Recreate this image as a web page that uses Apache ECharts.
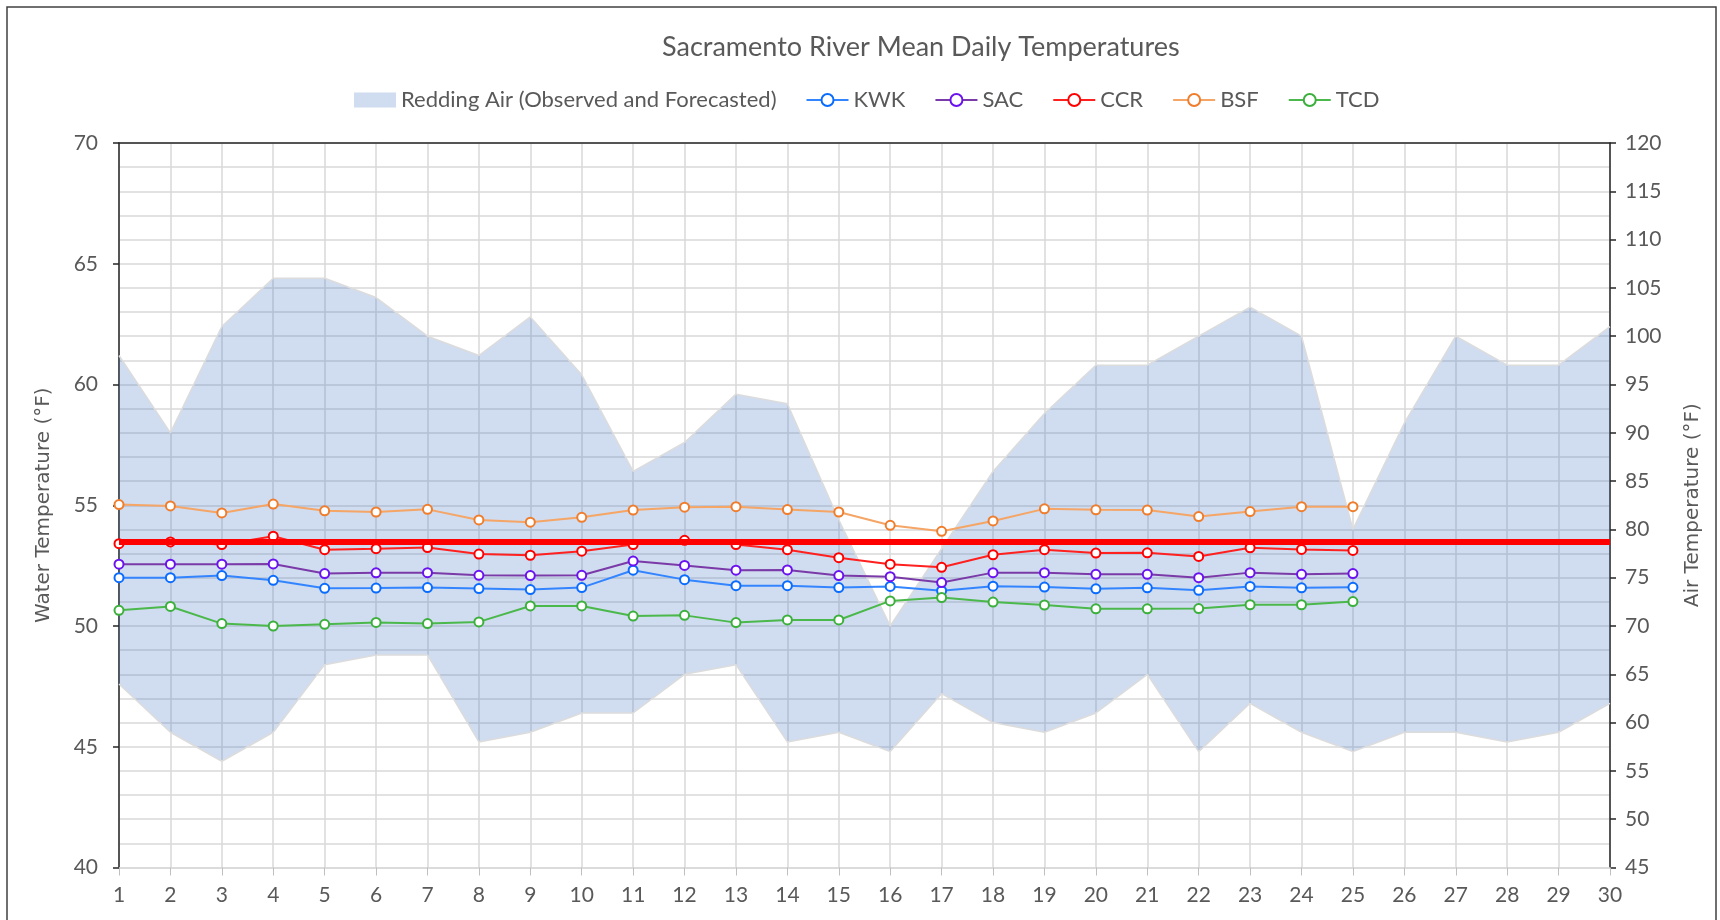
<!DOCTYPE html>
<html>
<head>
<meta charset="utf-8">
<title>Sacramento River Mean Daily Temperatures</title>
<script src="https://cdn.jsdelivr.net/npm/echarts@6/dist/echarts.min.js"></script>
<style>
  html, body { margin: 0; padding: 0; background: #fff; }
  #chart { width: 1720px; height: 920px; }
</style>
</head>
<body>
<div id="chart"></div>
<script>
// day of month
const days = ['1', '2', '3', '4', '5', '6', '7', '8', '9', '10',
  '11', '12', '13', '14', '15', '16', '17', '18', '19', '20',
  '21', '22', '23', '24', '25', '26', '27', '28', '29', '30']

// Redding air temperature band (right axis, °F)
const airHigh = [98, 90, 101, 106, 106, 104, 100, 98, 102, 96, 86, 89, 94, 93, 81,
  70, 78, 86, 92, 97, 97, 100, 103, 100, 80, 91, 100, 97, 97, 101]
const airLow = [64, 59, 56, 59, 66, 67, 67, 58, 59, 61, 61, 65, 66, 58, 59,
  57, 63, 60, 59, 61, 65, 57, 62, 59, 57, 59, 59, 58, 59, 62]

// water temperatures (left axis, °F)
const kwk = [52.0, 52.0, 52.09, 51.89, 51.56, 51.57, 51.59, 51.55, 51.51, 51.59, 52.31, 51.92, 51.67,
  51.67, 51.59, 51.64, 51.46, 51.65, 51.61, 51.54, 51.58, 51.48, 51.64, 51.58, 51.6]
const sac = [52.56, 52.56, 52.56, 52.57, 52.17, 52.2, 52.21, 52.1, 52.09, 52.1, 52.69, 52.51, 52.31,
  52.32, 52.09, 52.04, 51.8, 52.21, 52.21, 52.14, 52.14, 52.0, 52.21, 52.14, 52.17]
const ccr = [53.41, 53.48, 53.37, 53.72, 53.16, 53.2, 53.25, 52.98, 52.93, 53.1, 53.37, 53.55, 53.37,
  53.16, 52.83, 52.56, 52.43, 52.95, 53.16, 53.02, 53.03, 52.88, 53.24, 53.17, 53.13]
const bsf = [55.03, 54.97, 54.68, 55.05, 54.77, 54.72, 54.83, 54.39, 54.3, 54.5, 54.8, 54.92, 54.94,
  54.82, 54.72, 54.17, 53.92, 54.35, 54.85, 54.81, 54.8, 54.53, 54.74, 54.94, 54.94]
const tcd = [50.65, 50.81, 50.1, 50.0, 50.07, 50.15, 50.1, 50.17, 50.83, 50.83, 50.41, 50.44, 50.14,
  50.25, 50.25, 51.04, 51.18, 50.99, 50.87, 50.71, 50.71, 50.72, 50.88, 50.88, 51.01]

// temperature target line (left axis)
const targetTemp = [53.5]

// axis ticks
const waterTicks = { min: 40, max: 70, step: 5 }
const airTicks = { min: 45, max: 120, step: 5 }

const AIR_NAME = 'Redding Air (Observed and Forecasted)'
const TEXT = '#595959'
const GRID = '#d9d9d9'
const FONT = 'Lato'

// stacked band: the lower edge is the base, the visible part is high - low
const airSpan = airHigh.map((v, i) => v - airLow[i])

function waterSeries (name, data, lineColor, markColor) {
  return {
    name: name,
    type: 'line',
    yAxisIndex: 0,
    data: data,
    symbol: 'emptyCircle',
    symbolSize: 9,
    z: 3,
    lineStyle: { color: lineColor, width: 2 },
    itemStyle: { color: markColor, borderColor: markColor, borderWidth: 2.5 }
  }
}

let chart = echarts.init(document.getElementById('chart'))
let option = {
  backgroundColor: '#fff',
  animation: false,
  graphic: [{
    type: 'rect',
    shape: { x: 7, y: 7, width: 1709, height: 1000 },
    style: { fill: 'none', stroke: '#404040', lineWidth: 1.5 },
    silent: true
  }],
  title: {
    text: 'Sacramento River Mean Daily Temperatures',
    left: 657,
    top: 29,
    textStyle: { color: TEXT, fontFamily: FONT, fontSize: 27, fontWeight: 'normal' }
  },
  legend: {
    left: 349,
    top: 84,
    itemWidth: 42,
    itemHeight: 15,
    itemGap: 29,
    textStyle: { color: TEXT, fontFamily: FONT, fontSize: 22 },
    data: [
      { name: AIR_NAME, icon: 'rect', itemStyle: { color: 'rgba(68,114,196,0.25)' } },
      'KWK', 'SAC', 'CCR', 'BSF', 'TCD'
    ]
  },
  grid: { left: 119, right: 110, top: 143, bottom: 52.5 },
  xAxis: [
    {
      type: 'category',
      data: days,
      boundaryGap: false,
      axisLine: { lineStyle: { color: GRID, width: 1.5 } },
      axisTick: { show: true, length: 8, lineStyle: { color: '#bfbfbf' } },
      axisLabel: { color: TEXT, fontFamily: FONT, fontSize: 21, margin: 17 },
      splitLine: { show: true, lineStyle: { color: GRID, width: 1.5 } }
    },
    {
      type: 'category',
      data: days,
      position: 'top',
      boundaryGap: false,
      axisLine: { lineStyle: { color: '#262626', width: 1.5 } },
      axisTick: { show: false },
      axisLabel: { show: false },
      splitLine: { show: false }
    }
  ],
  yAxis: [
    {
      type: 'value',
      min: waterTicks.min,
      max: waterTicks.max,
      interval: waterTicks.step,
      name: 'Water Temperature (°F)',
      nameLocation: 'middle',
      nameRotate: 90,
      nameGap: 65,
      nameTextStyle: { color: TEXT, fontFamily: 'DejaVu Sans', fontSize: 20 },
      axisLine: { show: true, lineStyle: { color: '#262626', width: 1.5 } },
      axisTick: { show: true, length: 6, lineStyle: { color: '#262626', width: 1.5 } },
      axisLabel: { color: TEXT, fontFamily: FONT, fontSize: 21, margin: 21 },
      splitLine: { show: true, lineStyle: { color: GRID, width: 1.5 } },
      minorTick: { show: false, splitNumber: 5 },
      minorSplitLine: { show: true, lineStyle: { color: GRID, width: 1.5 } }
    },
    {
      type: 'value',
      min: airTicks.min,
      max: airTicks.max,
      interval: airTicks.step,
      position: 'right',
      name: 'Air Temperature (°F)',
      nameLocation: 'middle',
      nameRotate: 90,
      nameGap: 73,
      nameTextStyle: { color: TEXT, fontFamily: 'DejaVu Sans', fontSize: 20 },
      axisLine: { show: true, lineStyle: { color: '#262626', width: 1.5 } },
      axisTick: { show: true, length: 6, lineStyle: { color: '#262626', width: 1.5 } },
      axisLabel: { color: TEXT, fontFamily: FONT, fontSize: 21, margin: 15 },
      splitLine: { show: false }
    }
  ],
  series: [
    {
      name: 'airBase',
      type: 'line',
      yAxisIndex: 1,
      stack: 'air',
      data: airLow,
      symbol: 'none',
      silent: true,
      z: 1,
      lineStyle: { color: '#dcdcdc', width: 1.5 }
    },
    {
      name: AIR_NAME,
      type: 'line',
      yAxisIndex: 1,
      stack: 'air',
      data: airSpan,
      symbol: 'none',
      z: 1,
      lineStyle: { color: '#dcdcdc', width: 1.5 },
      itemStyle: { color: 'rgba(68,114,196,0.25)' },
      areaStyle: { color: 'rgba(68,114,196,0.25)', opacity: 1 }
    },
    waterSeries('KWK', kwk, '#3385ff', '#0a6cff'),
    waterSeries('SAC', sac, '#7a3aa8', '#6a12f0'),
    waterSeries('CCR', ccr, '#ff2020', '#ff0000'),
    waterSeries('BSF', bsf, '#f5a565', '#ef7d2c'),
    Object.assign(waterSeries('TCD', tcd, '#4bb84b', '#3cb03c'), {
      markLine: {
        silent: true,
        symbol: 'none',
        label: { show: false },
        lineStyle: { color: '#ff0000', width: 6, type: 'solid' },
        data: targetTemp.map(v => ({ yAxis: v }))
      }
    })
  ]
}
chart.setOption(option)
</script>
</body>
</html>
